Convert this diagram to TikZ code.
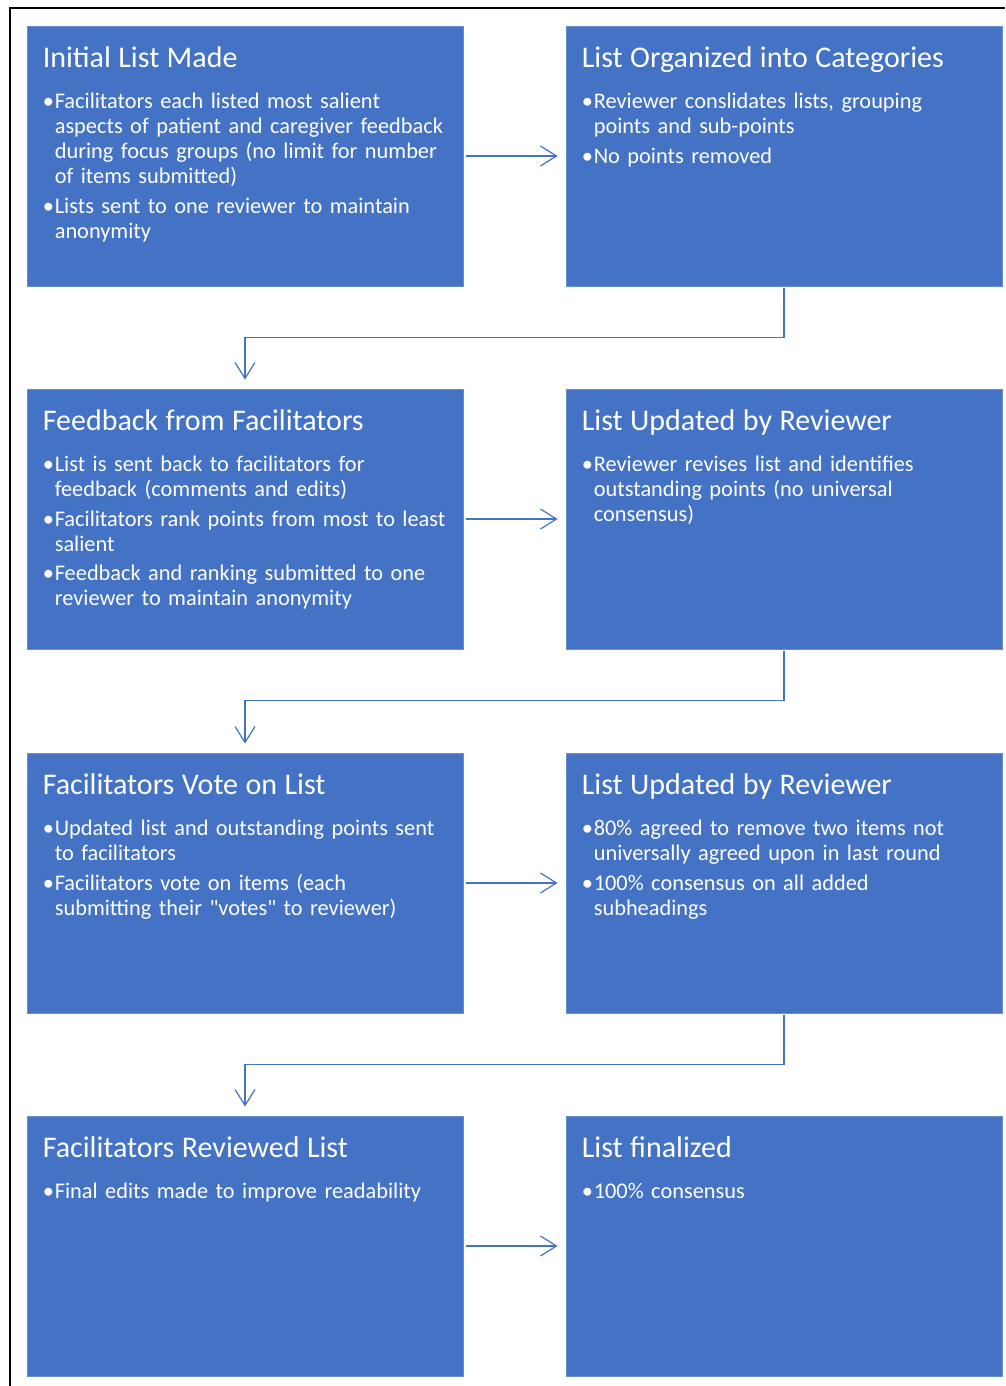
\documentclass[tikz,border=0pt]{standalone}
\usepackage{fontspec}
\setmainfont{Carlito}[Ligatures=TeXOff]
\usepackage{tikz}
\usetikzlibrary{calc, arrows.meta, positioning}

\definecolor{stepblue}{HTML}{4472C4}

\tikzset{
  stepbox/.style={rectangle, draw=stepblue!80!white, line width=0.8pt, fill=stepblue, minimum width=436pt, minimum height=260pt, inner sep=0pt},
  steptext/.style={anchor=base west, text=white, text width=415pt, align=left, inner sep=0pt, font=\fontsize{22.35}{25}\selectfont},
  flow/.style={draw=stepblue, line width=1.2pt, -{Straight Barb[length=16pt, width=20pt, line width=1.2pt]}}
}

\newcommand{\steptitle}[1]{{\fontsize{30}{30}\selectfont #1\par}\vspace{16pt}}
\newcommand{\stepitem}[1]{\par\hangindent=12pt\hangafter=1\noindent\makebox[12pt][l]{•}#1\par\vspace{4.5pt}}

\begin{document}
\begin{tikzpicture}[x=1pt, y=-1pt]
    \useasboundingbox (0,0) rectangle (1005,1386);
    \draw[line width=2pt] (10,1386) -- (10,8) -- (1005,8);

    \node[stepbox] (initial) at (245,156) {};
    \node[stepbox] (organized) at (784,156) {};
    \node[stepbox] (feedback) at (245,519) {};
    \node[stepbox] (updatedA) at (784,519) {};
    \node[stepbox] (vote) at (245,883) {};
    \node[stepbox] (updatedB) at (784,883) {};
    \node[stepbox] (reviewed) at (245,1246) {};
    \node[stepbox] (final) at (784,1246) {};

    \node[steptext] (initialtxt) at ($(initial.north west)+(16,42)$) {\steptitle{Initial List Made}%
        \stepitem{Facilitators each listed most salient\newline aspects of patient and caregiver feedback\newline during focus groups (no limit for number\newline of items submitted)}%
        \stepitem{Lists sent to one reviewer to maintain\newline anonymity}};
    \node[steptext] (organizedtxt) at ($(organized.north west)+(16,42)$) {\steptitle{List Organized into Categories}%
        \stepitem{Reviewer conslidates lists, grouping\newline points and sub-points}%
        \stepitem{No points removed}};
    \node[steptext] (feedbacktxt) at ($(feedback.north west)+(16,42)$) {\steptitle{Feedback from Facilitators}%
        \stepitem{List is sent back to facilitators for\newline feedback (comments and edits)}%
        \stepitem{Facilitators rank points from most to least\newline salient}%
        \stepitem{Feedback and ranking submitted to one\newline reviewer to maintain anonymity}};
    \node[steptext] (updatedAtxt) at ($(updatedA.north west)+(16,42)$) {\steptitle{List Updated by Reviewer}%
        \stepitem{Reviewer revises list and identifies\newline outstanding points (no universal\newline consensus)}};
    \node[steptext] (votetxt) at ($(vote.north west)+(16,42)$) {\steptitle{Facilitators Vote on List}%
        \stepitem{Updated list and outstanding points sent\newline to facilitators}%
        \stepitem{Facilitators vote on items (each\newline submitting their "votes" to reviewer)}};
    \node[steptext] (updatedBtxt) at ($(updatedB.north west)+(16,42)$) {\steptitle{List Updated by Reviewer}%
        \stepitem{80\% agreed to remove two items not\newline universally agreed upon in last round}%
        \stepitem{100\% consensus on all added\newline subheadings}};
    \node[steptext] (reviewedtxt) at ($(reviewed.north west)+(16,42)$) {\steptitle{Facilitators Reviewed List}%
        \stepitem{Final edits made to improve readability}};
    \node[steptext] (finaltxt) at ($(final.north west)+(16,42)$) {\steptitle{List finalized}%
        \stepitem{100\% consensus}};

    % across each row
    \draw[flow] ([xshift=3pt]initial.east) -- ([xshift=-8pt]organized.west);
    \draw[flow] ([xshift=3pt]feedback.east) -- ([xshift=-8pt]updatedA.west);
    \draw[flow] ([xshift=3pt]vote.east) -- ([xshift=-8pt]updatedB.west);
    \draw[flow] ([xshift=3pt]reviewed.east) -- ([xshift=-8pt]final.west);

    % down to the next row
    \draw[flow] ([yshift=-2pt]organized.south) -- ++(0,49) -| ([yshift=9pt]feedback.north);
    \draw[flow] ([yshift=-2pt]updatedA.south) -- ++(0,49) -| ([yshift=9pt]vote.north);
    \draw[flow] ([yshift=-2pt]updatedB.south) -- ++(0,49) -| ([yshift=9pt]reviewed.north);
\end{tikzpicture}
\end{document}
